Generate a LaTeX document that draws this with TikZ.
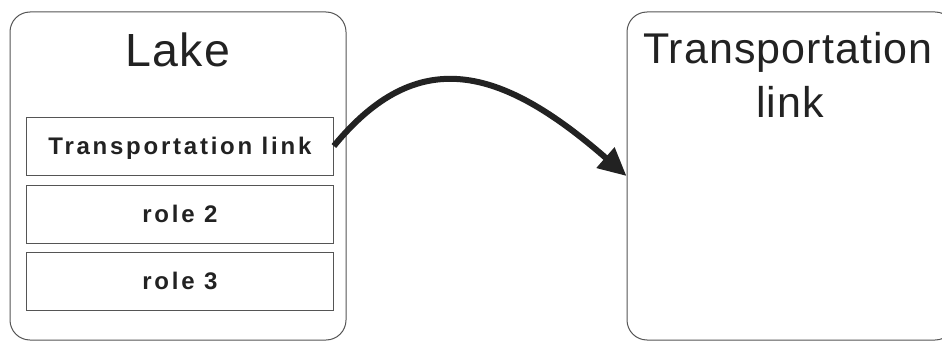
\documentclass[tikz,border=0pt]{standalone}
\usepackage{fontspec}
\setmainfont{Liberation Sans}
\newfontfamily\titlefont{Liberation Sans}[LetterSpace=2.5]
\newfontfamily\boxfont{Liberation Sans Bold}[LetterSpace=11.5]
\usetikzlibrary{arrows.meta}
\definecolor{ink}{HTML}{222222}
\definecolor{frame}{HTML}{555555}
\begin{document}
\begin{tikzpicture}[x=1pt,y=-1pt,
  outer/.style={draw=frame, line width=1pt, rounded corners=20pt, inner sep=0pt,
    minimum height=328pt},
  rolebox/.style={draw=frame, line width=0.9pt, minimum width=307pt, minimum height=58pt,
    inner sep=0pt, text=ink, text height=16.6pt, text depth=0pt,
    font={\boxfont\fontsize{24pt}{26pt}\selectfont}},
  bigtitle/.style={anchor=base, inner sep=0pt, text=ink,
    font={\titlefont\fontsize{46.5pt}{50pt}\selectfont}},
  sidetitle/.style={anchor=base, inner sep=0pt, text=ink,
    font={\titlefont\fontsize{43pt}{50pt}\selectfont}},
  link/.style={line width=6pt, draw=ink, -{Triangle[length=28pt,width=26pt]}}
]
\useasboundingbox (0,0) rectangle (942,342);
\clip (0,0) rectangle (942,342);
\fill[white] (0,0) rectangle (942,342);

\node[outer, minimum width=336pt] (lb) at (178,176) {};
\node[outer, minimum width=328pt] (rb) at (791,176) {};

\node[bigtitle] (lake) at (178,66.7) {Lake};
\node[sidetitle] (rt1) at (788,63.3) {Transportation};
\node[sidetitle] (rt2) at (790,118) {link};

\node[rolebox, xshift=1.4pt] (t1) at (178.5,146) {Transportation link};
\node[rolebox, xshift=1.4pt] (r2) at (178.5,214) {role 2};
\node[rolebox, xshift=1.4pt] (r3) at (178.5,281) {role 3};

\draw[link] (t1.east) .. controls +(83,-101) and +(-127,-111) .. (rb.west);
\end{tikzpicture}
\end{document}
